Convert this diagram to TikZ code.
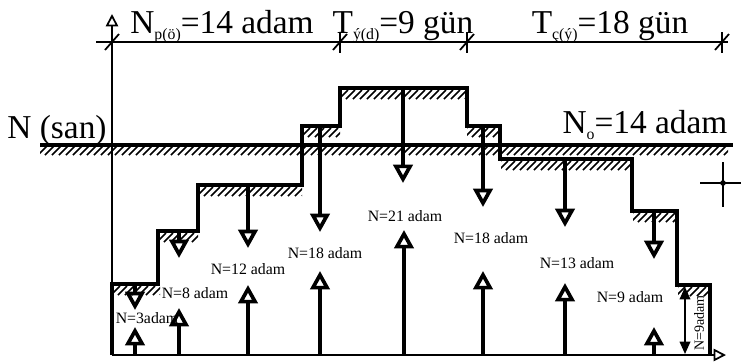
\documentclass[tikz,border=0pt]{standalone}
\usepackage{fontspec}
\setmainfont{Liberation Serif}
\usetikzlibrary{arrows.meta}

\newcommand{\lowtxt}[1]{\raisebox{-0.45ex}{\fontsize{9}{9}\selectfont #1}}
\newcommand{\hatchstrip}[3]{% x from, x to, y
  \begin{scope}
    \clip (#1,#3) rectangle (#2,#3+9);
    \foreach \k in {0,7,...,700} \draw[hatch] (#1+\k-9,#3+9) -- (#1+\k,#3);
  \end{scope}}

\begin{document}
\begin{tikzpicture}[x=0.02cm, y=-0.02cm,
    stair/.style={line width=2.2pt, line join=miter},
    axisline/.style={line width=1pt},
    hatch/.style={line width=0.9pt},
    flow/.style={line width=2.1pt, -{Triangle[open,length=10.5pt,width=11pt]}},
    bigtxt/.style={font=\fontsize{19}{22}\selectfont, inner sep=0pt},
    smalltxt/.style={font=\fontsize{9}{10}\selectfont, inner sep=0pt}]
  \useasboundingbox (0,0) rectangle (741,363);
  % Axes
  \draw[axisline, -{Triangle[open,length=7pt,width=7pt]}] (112,355) -- (112,14);
  \draw[axisline, -{Triangle[open,length=7pt,width=7pt]}] (112,355) -- (726,355);
  % Dimension line
  \draw[axisline] (96,42) -- (728,42);
  \foreach \tx in {112,340,467,722} {
    \draw[axisline] (\tx-7,50) -- (\tx+7,34);
  }
  \foreach \tx in {340,467,722} {
    \draw[axisline] (\tx,32) -- (\tx,53);
  }
  \node[bigtxt, anchor=base] (np) at (222,33) {N\lowtxt{p(ö)}=14 adam};
  \node[bigtxt, anchor=base] (ty) at (403,33) {T\lowtxt{ý(d)}=9 gün};
  \node[bigtxt, anchor=base] (tc) at (610,33) {T\lowtxt{ç(ý)}=18 gün};
  % Average level
  \draw[stair] (40,145) -- (733,145);
  \hatchstrip{40}{728}{146}
  \node[bigtxt, anchor=base] (san) at (57,138) {N (san)};
  \node[bigtxt, anchor=base] (no) at (645,133) {N\lowtxt{o}=14 adam};
  % Staircase
  \draw[stair] (112,355) |- (158,284) |- (198,231) |- (302,185) |- (340,126)
    |- (467,88) |- (500,126) |- (632,159) |- (677,211) |- (710,285) -- (710,355);
  \hatchstrip{113}{160}{286}
  \hatchstrip{159}{198}{233}
  \hatchstrip{199}{302}{187}
  \hatchstrip{303}{340}{128}
  \hatchstrip{341}{467}{90}
  \hatchstrip{467}{499}{128}
  \hatchstrip{501}{632}{161}
  \hatchstrip{633}{677}{213}
  \hatchstrip{678}{709}{287}
  % Down and up flows
  \foreach \fx/\ftop/\ftip in {135/284/310, 179/231/258, 248/185/248, 320/126/232,
      403/88/183, 483/126/207, 565/159/227, 654/211/259} {
    \draw[flow] (\fx,\ftop) -- (\fx,\ftip);
  }
  \foreach \fx/\ftip in {135/327, 179/308, 248/285, 320/271,
      404/230, 483/271, 565/283, 654/327} {
    \draw[flow] (\fx,355) -- (\fx,\ftip);
  }
  % Labels
  \node[smalltxt] (n3) at (147,318) {N=3adam};
  \node[smalltxt] (n8) at (195,293) {N=8 adam};
  \node[smalltxt] (n12) at (248,269) {N=12 adam};
  \node[smalltxt] (n18a) at (325,253) {N=18 adam};
  \node[smalltxt] (n21) at (405,216) {N=21 adam};
  \node[smalltxt] (n18b) at (491,238) {N=18 adam};
  \node[smalltxt] (n13) at (577,263) {N=13 adam};
  \node[smalltxt] (n9) at (630,297) {N=9 adam};
  % Last step height
  \draw[line width=1pt, {Triangle[length=7pt,width=6pt]}-{Triangle[length=7pt,width=6pt]}]
    (685,287) -- (685,354);
  \node[smalltxt, font=\fontsize{8}{9}\selectfont, rotate=90] (n9v) at (699,323) {N=9adam};
  % Mark
  \draw[axisline] (700,183) -- (741,183);
  \draw[axisline] (723,162) -- (723,207);
  \fill (723,183) circle[radius=1.6pt];
\end{tikzpicture}
\end{document}
